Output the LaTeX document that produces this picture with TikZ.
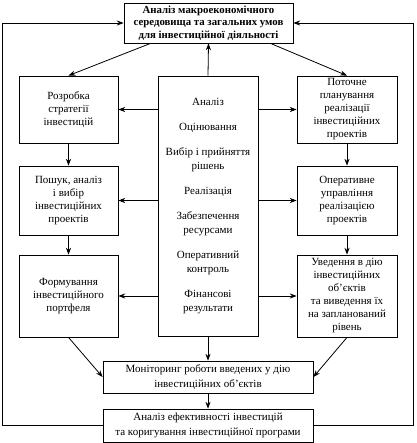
\documentclass[tikz,border=0pt]{standalone}
\usepackage{fontspec}
\setmainfont{Liberation Serif}
\usetikzlibrary{arrows.meta}
\tikzset{
  box/.style={draw, rectangle, align=center, font=\fontsize{11}{13}\selectfont, line width=0.8pt, inner sep=2pt, fill=white},
  topbox/.style={box, font=\bfseries\fontsize{10.8}{12.5}\selectfont},
  arr/.style={-{Stealth[length=2.4mm,width=1.8mm]}, line width=0.8pt},
}
\begin{document}
\begin{tikzpicture}[x=1pt,y=-1pt]
\useasboundingbox (0,0) rectangle (416,443);
% top
\node[topbox, minimum width=169pt, minimum height=40pt] (top) at (208.5,23) {Аналіз макроекономічного\\середовища та загальних умов\\для інвестиційної діяльності};
% left column
\node[box, minimum width=99pt, minimum height=67pt] (str) at (68.5,109.5) {Розробка\\стратегії\\інвестицій};
\node[box, minimum width=99pt, minimum height=69pt] (poshuk) at (68.5,200.5) {Пошук, аналіз\\і вибір\\інвестиційних\\проектів};
\node[box, minimum width=99pt, minimum height=82pt] (portf) at (68.5,296) {Формування\\інвестиційного\\портфеля};
% centre
\node[box, minimum width=100pt, minimum height=260pt, font=\fontsize{11}{14}\selectfont] (proc) at (208,206) {Аналіз\\[11pt]Оцінювання\\[11pt]Вибір і прийняття\\рішень\\[11pt]Реалізація\\[11pt]Забезпечення\\ресурсами\\[11pt]Оперативний\\контроль\\[11pt]Фінансові\\результати};
% right column
\node[box, minimum width=100pt, minimum height=67pt] (plan) at (347,109.5) {Поточне\\планування\\реалізації\\інвестиційних\\проектів};
\node[box, minimum width=100pt, minimum height=69pt] (oper) at (347,200.5) {Оперативне\\управління\\реалізацією\\проектів};
\node[box, minimum width=100pt, minimum height=82pt] (uved) at (347,296) {Уведення в дію\\інвестиційних\\об’єктів\\та виведення їх\\на запланований\\рівень};
% bottom
\node[box, minimum width=210pt, minimum height=32pt, font=\fontsize{11}{15}\selectfont] (mon) at (208,377) {Моніторинг роботи введених у дію\\інвестиційних об’єктів};
\node[box, minimum width=210pt, minimum height=33pt, font=\fontsize{11}{15}\selectfont] (eff) at (208,425.5) {Аналіз ефективності інвестицій\\та коригування інвестиційної програми};
% links
\draw[arr] ([xshift=-58pt]top.south) -- (str.north);
\draw[arr] ([xshift=62pt]top.south) -- (plan.north);
\draw[arr] (proc.north) -- (top.south);
\foreach \b in {str,poshuk,portf} \draw[arr] (proc.west |- \b.east) -- (\b.east);
\foreach \b in {plan,oper,uved} \draw[arr] (proc.east |- \b.west) -- (\b.west);
\draw[arr] (str.south) -- (poshuk.north);
\draw[arr] (poshuk.south) -- (portf.north);
\draw[arr] (plan.south) -- (oper.north);
\draw[arr] (oper.south) -- (uved.north);
\draw[arr] (portf.south) -- (mon.west);
\draw[arr] (uved.south) -- (mon.east);
\draw[arr] (proc.south) -- (mon.north);
\draw[arr] (mon.south) -- (eff.north);
% feedback
\draw[arr] (eff.west) -- ++(-100,0) |- (top.west);
\draw[arr] (eff.east) -- ++(100,0) |- (top.east);
\end{tikzpicture}
\end{document}
